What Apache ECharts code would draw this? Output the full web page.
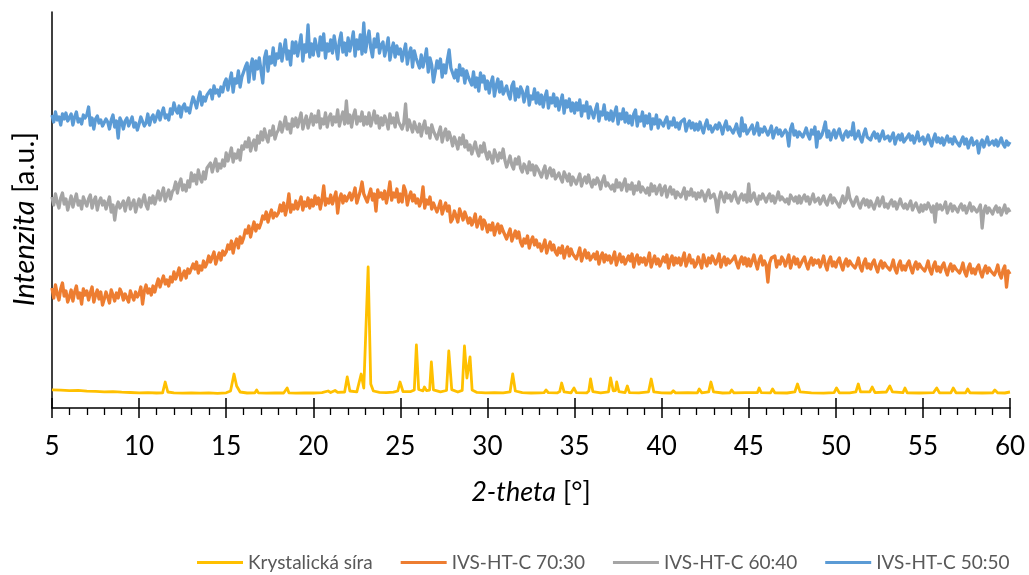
<!DOCTYPE html>
<html>
<head>
<meta charset="utf-8">
<title>XRD</title>
<script src="https://cdn.jsdelivr.net/npm/echarts/dist/echarts.min.js"></script>
<style>
  html, body { margin: 0; padding: 0; background: #ffffff; }
  #chart { width: 1029px; height: 575px; }
</style>
</head>
<body>
<div id="chart"></div>
<script>
// Diffraction scans, 2-theta from 5 to 60 deg, step 0.1 deg (intensity in a.u., offset traces)
const thetaStart = 5;
const thetaStep = 0.1;

const seriesNames = ['Krystalická síra', 'IVS-HT-C 70:30', 'IVS-HT-C 60:40', 'IVS-HT-C 50:50'];
const seriesColors = ['#FFC000', '#ED7D31', '#A5A5A5', '#5B9BD5'];
const xTicks = [5, 10, 15, 20, 25, 30, 35, 40, 45, 50, 55, 60];

// Crystalline sulfur: [2-theta, intensity]
const sulfurScan = [
  [5.0,18.2],[5.5,17.8],[6.0,17.4],[6.5,17.6],[7.0,16.9],[7.5,16.6],[8.0,16.2],[8.5,16.4],[9.0,15.8],[9.5,15.5],
  [10.0,15.2],[10.5,15.4],[11.0,15.0],[11.35,15.2],[11.5,26],[11.65,16],[12.0,15.1],[12.5,14.8],[13.0,15.2],[13.5,14.9],
  [14.0,15.1],[14.5,14.7],[15.0,15.2],[15.25,17],[15.45,34],[15.6,22],[15.8,16],[16.2,15.0],[16.65,15.2],[16.75,18],
  [16.85,15.1],[17.3,14.8],[17.8,15.2],[18.3,15.0],[18.4,15.3],[18.5,20],[18.6,15.2],[19.0,14.9],[19.5,15.1],[20.0,15.0],
  [20.5,15.4],[20.85,17],[21.0,15.5],[21.25,17.5],[21.4,15.6],[21.8,16],[21.95,31],[22.1,17],[22.5,16.2],[22.75,34],
  [22.9,20],[23.0,22],[23.15,141],[23.3,24],[23.45,17],[23.8,15.6],[24.2,15.4],[24.6,15.8],[24.85,17],[24.98,26],
  [25.15,16.5],[25.6,16.4],[25.8,18],[25.92,63],[26.05,18.5],[26.3,17.2],[26.38,21],[26.5,17.4],[26.68,18],[26.78,46],
  [26.9,18.2],[27.3,16.2],[27.65,17.5],[27.78,57],[27.95,18.4],[28.3,16.0],[28.55,17.6],[28.68,62],[28.82,30],[29.0,51],
  [29.12,18],[29.4,15.6],[29.9,15.2],[30.4,15.4],[30.9,15.1],[31.3,16.2],[31.45,34],[31.6,17],[32.0,15.3],[32.5,15.0],
  [33.0,15.2],[33.25,15.4],[33.36,18],[33.5,15.3],[34.0,15.1],[34.15,16.4],[34.26,25],[34.4,16.2],[34.8,15.2],[34.97,20],
  [35.1,15.3],[35.7,15.1],[35.82,17],[35.92,29],[36.05,16.4],[36.5,15.2],[36.95,16.2],[37.07,30],[37.22,17.2],[37.35,17.4],
  [37.42,26],[37.55,16.3],[37.9,15.4],[38.03,22],[38.15,15.3],[38.7,15.1],[39.25,16.2],[39.4,29],[39.55,16.1],[40.0,15.2],
  [40.55,15.0],[40.67,17.2],[40.8,15.1],[41.5,15.3],[42.05,15.2],[42.16,19],[42.3,15.2],[42.7,16.1],[42.83,26],[42.98,16.2],
  [43.5,15.0],[43.92,15.2],[44.02,18],[44.15,15.1],[44.8,15.3],[45.5,15.4],[45.6,20],[45.72,15.3],[46.25,15.1],[46.37,19],
  [46.5,15.2],[47.2,15.0],[47.65,16.2],[47.8,24],[47.95,16.1],[48.6,15.2],[49.3,14.9],[49.9,15.3],[50.04,20],[50.2,15.2],
  [50.8,15.1],[51.15,16.2],[51.29,24],[51.42,16.2],[51.95,16.1],[52.09,21],[52.25,15.4],[52.9,16.0],[53.1,22],[53.25,16.1],
  [53.85,15.3],[53.97,20],[54.1,15.2],[54.8,15.0],[55.6,15.3],[55.79,20],[55.95,15.2],[56.6,15.1],[56.74,20],[56.9,15.2],
  [57.45,15.1],[57.57,19],[57.7,15.2],[58.4,15.0],[59.0,15.2],[59.13,18],[59.3,15.1],[59.7,15.0],[60.0,16]
];

// IVS-HT-C 70:30
const ivs7030 = [
  120,110,123,114,108,119,125,112,117,106,
  111,118,107,116,122,110,115,104,119,113,
  117,108,115,121,106,113,118,109,116,103,
  109,116,111,105,118,113,107,115,110,119,
  115,108,114,110,106,117,112,108,116,111,
  114,121,104,117,123,115,119,113,122,116,
  123,129,121,127,132,124,128,122,131,126,
  136,129,134,140,128,133,137,130,139,135,
  137,144,139,146,135,142,138,147,141,145,
  152,146,151,156,144,150,155,148,157,153,
  156,163,159,167,155,164,169,160,171,165,
  170,178,175,182,171,179,186,177,183,180,
  185,192,189,196,186,193,198,190,195,192,
  195,203,197,205,193,201,214,196,203,199,
  207,199,205,211,198,206,202,210,200,208,
  202,212,204,210,199,208,222,203,209,205,
  213,204,210,216,195,209,214,205,212,207,
  206,215,208,213,220,205,211,217,226,214,
  216,206,213,219,208,214,197,218,211,215,
  209,217,205,214,226,208,215,211,219,206,
  214,206,222,217,203,211,216,207,213,205,
  209,202,207,221,200,208,204,211,199,205,
  203,196,201,207,194,200,205,197,202,186,
  189,197,192,186,199,194,188,196,191,185,
  190,183,187,194,181,186,191,179,188,184,
  176,183,178,185,173,180,184,175,182,177,
  175,169,174,179,167,172,177,170,176,166,
  162,169,165,172,160,167,171,163,168,161,
  164,157,162,168,155,161,166,158,163,156,
  153,160,155,162,150,157,161,152,159,154,
  156,149,154,160,147,153,158,150,155,148,
  147,154,149,156,144,151,155,146,153,148,
  152,145,150,156,143,149,154,146,151,144,
  145,152,147,154,141,149,153,144,150,146,
  150,143,148,155,141,147,152,144,149,142,
  144,151,146,153,140,148,152,143,150,145,
  150,143,149,155,142,147,153,145,148,141,
  144,151,146,140,153,147,142,150,145,152,
  150,144,148,154,141,147,151,143,149,145,
  143,149,152,145,140,147,151,144,150,142,
  149,142,147,153,145,139,148,152,143,147,
  143,126,145,150,149,152,141,147,144,151,
  148,142,147,153,140,146,151,144,149,141,
  142,148,151,144,139,146,150,143,148,145,
  148,141,146,152,143,138,147,151,142,146,
  141,147,150,143,138,145,149,142,147,144,
  146,140,144,150,141,137,145,149,140,144,
  139,145,148,141,136,143,147,140,145,142,
  144,138,142,148,139,135,143,147,138,142,
  138,144,147,140,135,142,146,139,144,141,
  143,137,141,147,138,134,142,146,137,141,
  136,142,145,138,133,140,144,137,142,139,
  141,135,139,145,136,132,140,144,135,139,
  134,140,143,136,131,138,142,135,140,137,
  139,133,137,143,134,130,138,142,121,137,
  134
];

// IVS-HT-C 60:40
const ivs6040 = [
  211,203,214,206,200,210,215,204,209,198,
  205,212,201,208,214,203,207,199,211,206,
  202,209,213,200,207,211,198,206,210,203,
  207,199,205,211,196,203,188,201,206,200,
  200,207,197,205,210,199,204,208,196,203,
  209,201,207,213,203,199,210,205,212,204,
  210,217,208,214,220,207,213,218,209,216,
  219,226,215,224,229,218,223,217,227,221,
  235,227,233,224,238,230,226,236,229,240,
  238,245,236,243,249,237,244,240,248,242,
  255,247,253,260,246,254,250,258,248,262,
  259,266,261,270,257,264,268,258,272,265,
  276,268,279,271,266,277,273,282,269,275,
  278,286,276,283,291,279,284,275,289,282,
  290,281,288,295,279,286,292,280,287,294,
  283,292,286,297,280,289,284,295,281,290,
  294,283,291,286,298,282,290,296,284,307,
  285,293,281,292,298,284,291,287,296,283,
  291,284,295,282,289,297,285,292,280,290,
  283,292,287,279,294,285,290,281,295,286,
  287,279,285,304,278,288,282,276,286,280,
  276,284,272,281,287,275,280,270,283,277,
  277,269,275,281,266,274,279,268,276,270,
  262,271,266,259,270,264,273,261,267,258,
  263,254,260,266,257,252,262,256,265,255,
  249,256,251,245,258,253,247,255,250,259,
  248,241,246,252,243,239,249,244,251,240,
  236,244,241,235,246,238,243,233,242,239,
  239,231,237,242,230,236,240,232,238,229,
  228,235,230,226,236,232,227,234,223,231,
  232,224,229,234,222,228,231,225,233,226,
  221,228,224,230,226,219,227,232,222,225,
  226,219,223,217,228,221,225,218,224,229,
  217,223,219,225,214,222,218,226,216,221,
  221,215,220,213,224,217,222,214,219,223,
  213,219,222,211,217,221,214,218,210,216,
  218,211,215,220,209,216,213,219,212,215,
  209,215,211,217,213,207,214,218,210,212,
  214,208,196,209,216,211,206,215,210,213,
  207,212,216,209,205,211,214,208,213,206,
  224,207,211,215,208,204,212,209,214,210,
  206,211,214,207,212,205,210,216,208,211,
  212,206,209,204,213,210,207,211,205,212,
  205,210,213,207,211,204,209,214,206,208,
  210,204,208,212,206,203,209,213,205,210,
  209,204,201,207,212,205,208,220,210,206,
  202,207,211,204,200,206,209,203,208,201,
  207,203,199,205,210,202,206,211,201,204,
  200,205,208,202,206,199,204,209,203,200,
  204,199,203,207,198,202,205,200,196,203,
  197,203,199,205,201,196,202,186,204,199,
  203,198,201,206,195,200,204,197,202,199,
  196,201,204,198,202,195,200,205,197,201,
  201,196,199,203,180,197,202,195,200,198,
  194,199,202,196,200,193,198,203,195,199,
  196
];

// IVS-HT-C 50:50
const ivs5050 = [
  293,286,296,288,291,283,294,289,295,287,
  287,294,283,291,296,286,289,284,293,290,
  293,301,283,290,279,289,292,285,288,282,
  282,289,286,279,288,293,281,287,270,290,
  286,279,287,290,282,280,291,281,285,278,
  284,291,289,282,285,294,283,290,293,286,
  291,297,288,295,300,290,293,288,299,294,
  305,298,295,302,291,301,304,297,300,295,
  304,311,306,300,309,316,303,311,307,313,
  313,318,309,322,315,318,312,321,316,325,
  329,318,327,335,316,329,325,337,321,331,
  331,341,345,326,341,349,329,347,339,350,
  352,325,350,357,337,351,345,360,343,354,
  350,364,347,358,368,349,357,343,366,355,
  366,352,362,373,347,363,356,383,351,364,
  353,369,360,352,371,358,374,350,364,357,
  368,355,372,361,349,367,375,356,365,353,
  370,357,366,376,352,368,359,373,354,385,
  356,368,377,360,351,369,361,374,355,363,
  366,352,360,370,348,358,365,351,362,354,
  359,347,356,364,344,354,360,341,357,350,
  352,340,353,341,349,359,336,350,343,326,
  336,347,340,349,331,343,335,348,358,340,
  340,330,338,327,343,333,339,325,337,331,
  333,323,336,321,330,317,335,326,332,319,
  327,315,325,331,312,322,329,316,326,314,
  312,322,314,309,322,326,308,319,311,321,
  317,306,314,321,303,312,309,319,305,315,
  304,313,301,311,317,300,310,305,314,302,
  310,298,306,313,295,307,301,309,297,305,
  295,305,298,308,292,302,297,306,290,301,
  301,290,298,304,287,296,293,303,289,295,
  288,297,287,295,301,284,294,289,299,286,
  295,285,292,283,294,298,282,291,287,296,
  282,292,285,294,279,289,284,293,280,288,
  288,282,287,291,280,286,283,290,281,285,
  279,286,284,289,277,283,287,280,285,278,
  284,278,286,280,275,283,288,279,282,276,
  277,283,279,285,281,274,282,287,278,281,
  282,275,279,284,276,272,290,277,283,274,
  275,280,283,274,278,285,273,279,276,281,
  279,273,277,282,270,276,280,274,278,272,
  272,278,275,262,279,284,273,277,271,276,
  277,271,275,280,273,269,278,274,281,261,
  276,270,273,279,286,271,277,268,274,278,
  270,275,279,272,268,274,277,271,276,273,
  285,269,272,277,270,266,274,279,271,273,
  268,273,276,270,274,267,272,277,269,271,
  272,267,271,275,264,270,273,268,274,266,
  266,271,274,268,272,265,270,276,267,269,
  271,264,268,273,267,262,269,274,266,270,
  265,270,263,268,272,266,269,264,271,267,
  268,262,267,271,264,269,260,266,270,263,
  262,267,255,264,268,261,266,271,263,265,
  267,263,268,262,266,270,264,261,267,263,
  266
];

function withTheta(values) {
  return values.map((v, i) => [+(thetaStart + i * thetaStep).toFixed(1), v]);
}

const fontFamily = 'Lato, "Noto Sans", sans-serif';
const chart = echarts.init(document.getElementById('chart'), null, { renderer: 'canvas' });

const lineSeries = (name, color, data, width) => ({
  name: name,
  type: 'line',
  data: data,
  showSymbol: false,
  symbol: 'none',
  color: color,
  lineStyle: { color: color, width: width, join: 'round' },
  itemStyle: { color: color },
  emphasis: { disabled: true },
  animation: false
});

chart.setOption({
  backgroundColor: '#ffffff',
  animation: false,
  grid: { left: 52, right: 19, top: 12, bottom: 167, containLabel: false },
  legend: {
    data: seriesNames,
    bottom: 3,
    left: 197,
    width: 832,
    padding: 0,
    icon: 'rect',
    itemWidth: 46,
    itemHeight: 3,
    itemGap: 28,
    textStyle: { fontFamily: fontFamily, fontSize: 19, color: '#595959' }
  },
  xAxis: [
    {
      type: 'value',
      min: xTicks[0],
      max: xTicks[xTicks.length - 1],
      interval: 5,
      name: '{it|2-theta} [°]',
      nameLocation: 'middle',
      nameGap: 71,
      nameTextStyle: {
        fontFamily: fontFamily, fontSize: 27, color: '#000000',
        rich: { it: { fontFamily: fontFamily, fontSize: 27, fontStyle: 'italic', color: '#000000' } }
      },
      axisLine: { show: true, onZero: false, lineStyle: { color: '#000000', width: 1.5 } },
      axisTick: { show: true, inside: false, length: 10, lineStyle: { color: '#000000', width: 1.5 } },
      minorTick: { show: true, splitNumber: 5, length: 7, lineStyle: { color: '#000000', width: 1.3 } },
      axisLabel: { margin: 26, fontFamily: fontFamily, fontSize: 26, color: '#000000' },
      splitLine: { show: false },
      minorSplitLine: { show: false }
    },
    {
      type: 'value',
      gridIndex: 0,
      position: 'bottom',
      min: xTicks[0],
      max: xTicks[xTicks.length - 1],
      interval: 5,
      axisLine: { show: false },
      axisTick: { show: true, inside: true, length: 10, lineStyle: { color: '#000000', width: 1.5 } },
      axisLabel: { show: false },
      splitLine: { show: false }
    }
  ],
  yAxis: {
    type: 'value',
    min: 0,
    max: 396,
    name: '{it|Intenzita} [a.u.]',
    nameLocation: 'middle',
    nameRotate: 90,
    nameGap: 13,
    nameTextStyle: {
      fontFamily: fontFamily, fontSize: 29, color: '#000000',
      padding: [0, 18, 0, 0],
      rich: { it: { fontFamily: fontFamily, fontSize: 29, fontStyle: 'italic', color: '#000000' } }
    },
    axisLine: { show: true, lineStyle: { color: '#000000', width: 1.5 } },
    axisTick: { show: false },
    axisLabel: { show: false },
    splitLine: { show: false }
  },
  series: [
    lineSeries(seriesNames[0], seriesColors[0], sulfurScan, 2.8),
    lineSeries(seriesNames[1], seriesColors[1], withTheta(ivs7030), 3.3),
    lineSeries(seriesNames[2], seriesColors[2], withTheta(ivs6040), 3.3),
    lineSeries(seriesNames[3], seriesColors[3], withTheta(ivs5050), 3.3)
  ]
});
</script>
</body>
</html>
